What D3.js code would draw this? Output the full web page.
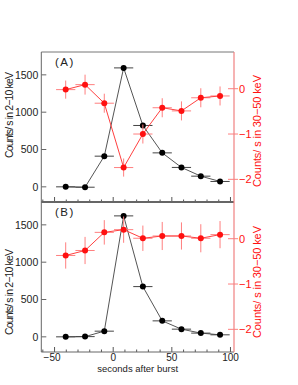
<!DOCTYPE html>
<html>
<head>
<meta charset="utf-8">
<script src="https://cdn.jsdelivr.net/npm/d3@7"></script>
<style>
  body { margin: 0; background: #fff; }
  svg text { font-family: "Liberation Sans", Arial, sans-serif; }
</style>
</head>
<body>
<svg width="298" height="385"></svg>
<script>
// time bins (seconds after burst), centre of each bin
var times = [-40.5, -24, -7.6, 8.9, 25.3, 41.8, 58.2, 74.7, 91.1];
var halfBin = 8.2;

// panel A
var softA = [0, -5, 411, 1593, 822, 455, 260, 143, 72];
var hardA = [-0.02, 0.09, -0.32, -1.74, -1.0, -0.42, -0.49, -0.2, -0.16];
var hardErrA = [0.2, 0.22, 0.21, 0.2, 0.21, 0.21, 0.21, 0.21, 0.21];

// panel B
var softB = [0, 3, 76, 1620, 673, 214, 103, 50, 27];
var hardB = [-0.37, -0.26, 0.14, 0.2, 0.01, 0.06, 0.06, 0.01, 0.09];
var hardErrB = [0.29, 0.3, 0.27, 0.29, 0.28, 0.31, 0.3, 0.31, 0.3];

var leftTicks = [0, 500, 1000, 1500];
var rightTicks = [0, -1, -2];
var xMajor = [-50, 0, 50, 100];

var svg = d3.select("svg");

var left = 41.3, right = 234;
var x = d3.scaleLinear().domain([-61.3, 103]).range([left, right]);

var panels = [
  {name: "A", top: 52, bottom: 202, soft: softA, hard: hardA, err: hardErrA, tl: 115, tr: 131},
  {name: "B", top: 202, bottom: 352, soft: softB, hard: hardB, err: hardErrB, tl: 292, tr: 282}
];

var red = "#ff1010", pink = "#ff7f7f";

panels.forEach(function(p) {
  var yL = d3.scaleLinear().domain([-203, 1806]).range([p.bottom, p.top]);
  var yR = d3.scaleLinear().domain([-2.5, 0.81]).range([p.bottom, p.top]);
  var g = svg.append("g");

  // left ticks (inward)
  g.selectAll(".lt").data(leftTicks).enter().append("line")
    .attr("x1", left).attr("x2", left + 5)
    .attr("y1", d => yL(d)).attr("y2", d => yL(d))
    .attr("stroke", "#666").attr("stroke-width", 1);
  g.selectAll(".ll").data(leftTicks).enter().append("text")
    .attr("x", left - 3).attr("y", d => yL(d) + 3.7)
    .attr("text-anchor", "end")
    .attr("font-size", 10.5)
    .style("font-family", "'Liberation Sans Narrow', 'Liberation Sans', sans-serif")
    .attr("fill", "#222")
    .text(d => d);

  // bottom ticks (inward, pointing up)
  var minor = d3.range(-60, 101, 10);
  g.selectAll(".bt").data(minor).enter().append("line")
    .attr("x1", d => x(d)).attr("x2", d => x(d))
    .attr("y1", p.bottom).attr("y2", d => p.bottom - (d % 50 === 0 ? 5 : 2.5))
    .attr("stroke", "#555").attr("stroke-width", 1);

  // right axis ticks (crossing)
  g.selectAll(".rt").data(rightTicks).enter().append("line")
    .attr("x1", right - 6).attr("x2", right + 4)
    .attr("y1", d => yR(d)).attr("y2", d => yR(d))
    .attr("stroke", pink).attr("stroke-width", 1);
  g.selectAll(".rl").data(rightTicks).enter().append("text")
    .attr("x", right + 5).attr("y", d => yR(d) + 4)
    .attr("font-size", 11)
    .attr("fill", red)
    .text(d => d < 0 ? "\u2212" + Math.abs(d) : d);

  // axis titles
  g.append("text")
    .attr("transform", "translate(13," + p.tl + ") rotate(-90)")
    .attr("text-anchor", "middle")
    .attr("font-size", 10.5)
    .attr("fill", "#222")
    .attr("textLength", 86).attr("lengthAdjust", "spacing")
    .text("Counts/ s in 2\u221210 keV");
  g.append("text")
    .attr("transform", "translate(261," + p.tr + ") rotate(-90)")
    .attr("text-anchor", "middle")
    .attr("font-size", 11)
    .attr("fill", red)
    .attr("textLength", 112).attr("lengthAdjust", "spacing")
    .text("Counts/ s in 30\u221250 keV");

  g.append("text")
    .attr("x", 55).attr("y", p.top + 14)
    .attr("font-size", 11.5)
    .attr("fill", "#222")
    .attr("letter-spacing", 1.5)
    .text("(" + p.name + ")");

  // soft band (black)
  var soft = times.map((t, i) => ({t: t, v: p.soft[i]}));
  g.append("path").datum(soft)
    .attr("d", d3.line().x(d => x(d.t)).y(d => yL(d.v)))
    .attr("fill", "none").attr("stroke", "#555").attr("stroke-width", 1);
  g.selectAll(".sx").data(soft).enter().append("line")
    .attr("x1", d => x(d.t - halfBin)).attr("x2", d => x(d.t + halfBin))
    .attr("y1", d => yL(d.v)).attr("y2", d => yL(d.v))
    .attr("stroke", "#444").attr("stroke-width", 1);
  g.selectAll(".sp").data(soft).enter().append("circle")
    .attr("cx", d => x(d.t)).attr("cy", d => yL(d.v)).attr("r", 3)
    .attr("fill", "#000");

  // hard band (red)
  var hard = times.map((t, i) => ({t: t, v: p.hard[i], e: p.err[i]}));
  g.selectAll(".hy").data(hard).enter().append("line")
    .attr("x1", d => x(d.t)).attr("x2", d => x(d.t))
    .attr("y1", d => yR(d.v - d.e)).attr("y2", d => yR(d.v + d.e))
    .attr("stroke", pink).attr("stroke-width", 1);
  g.selectAll(".hx").data(hard).enter().append("line")
    .attr("x1", d => x(d.t - halfBin)).attr("x2", d => x(d.t + halfBin))
    .attr("y1", d => yR(d.v)).attr("y2", d => yR(d.v))
    .attr("stroke", pink).attr("stroke-width", 1);
  g.append("path").datum(hard)
    .attr("d", d3.line().x(d => x(d.t)).y(d => yR(d.v)))
    .attr("fill", "none").attr("stroke", "#ff4040").attr("stroke-width", 1);
  g.selectAll(".hp").data(hard).enter().append("circle")
    .attr("cx", d => x(d.t)).attr("cy", d => yR(d.v)).attr("r", 3)
    .attr("fill", red);
});

// frame
svg.append("line").attr("x1", left).attr("x2", right).attr("y1", 52).attr("y2", 52)
  .attr("stroke", "#777").attr("stroke-width", 1);
svg.append("line").attr("x1", left).attr("x2", right).attr("y1", 202).attr("y2", 202)
  .attr("stroke", "#666").attr("stroke-width", 2);
svg.append("line").attr("x1", left).attr("x2", right).attr("y1", 352).attr("y2", 352)
  .attr("stroke", "#666").attr("stroke-width", 1);
svg.append("line").attr("x1", left).attr("x2", left).attr("y1", 52).attr("y2", 352)
  .attr("stroke", "#666").attr("stroke-width", 1);
svg.append("line").attr("x1", right).attr("x2", right).attr("y1", 52).attr("y2", 352)
  .attr("stroke", "#f08080").attr("stroke-width", 1.2);

// x labels
svg.selectAll(".xl").data(xMajor).enter().append("text")
  .attr("x", d => x(d) - (d < 0 ? 2.5 : 0)).attr("y", 360.5)
  .attr("text-anchor", "middle")
  .attr("font-size", 10)
  .attr("fill", "#222")
  .text(d => d < 0 ? "\u2212" + Math.abs(d) : d);

svg.append("text")
  .attr("x", (left + right) / 2).attr("y", 372)
  .attr("text-anchor", "middle")
  .attr("font-size", 9.5)
  .attr("fill", "#222")
  .text("seconds after burst");
</script>
</body>
</html>
